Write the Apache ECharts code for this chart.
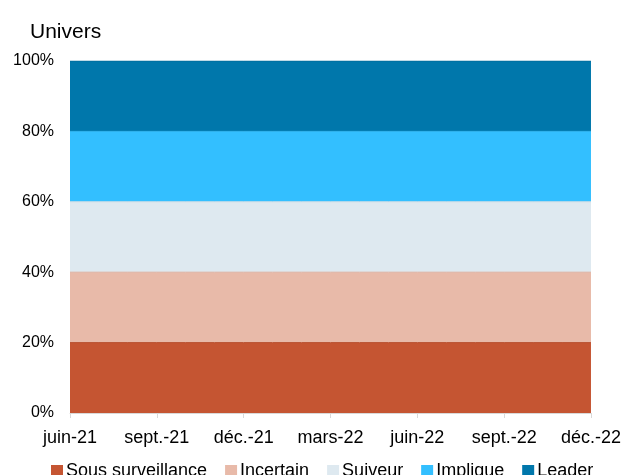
<!DOCTYPE html>
<html>
<head>
<meta charset="utf-8">
<script src="https://cdn.jsdelivr.net/npm/echarts@6/dist/echarts.min.js"></script>
<style>
  html, body { margin: 0; padding: 0; background: #fff; }
  #chart { width: 624px; height: 475px; }
</style>
</head>
<body>
<div id="chart"></div>
<script>
// months juin-21 .. déc.-22
const months = ['juin-21','juil.-21','août-21','sept.-21','oct.-21','nov.-21','déc.-21','janv.-22','févr.-22','mars-22',
  'avr.-22','mai-22','juin-22','juil.-22','août-22','sept.-22','oct.-22','nov.-22','déc.-22'];
const seriesNames = ['Sous surveillance','Incertain','Suiveur','Implique','Leader'];
const colors = ['#C55532','#E8BAA9','#DEE9F0','#33BFFF','#0077AB'];
const lineColors = ['#B84E2D','#DDAE9D','#D2DDE4','#2DB3F0','#006C9C'];
const sousSurveillance = [0.2,0.2,0.2,0.2,0.2,0.2,0.2,0.2,0.2,0.2,0.2,0.2,0.2,0.2,0.2,0.2,0.2,0.2,0.2];
const incertain        = [0.2,0.2,0.2,0.2,0.2,0.2,0.2,0.2,0.2,0.2,0.2,0.2,0.2,0.2,0.2,0.2,0.2,0.2,0.2];
const suiveur          = [0.2,0.2,0.2,0.2,0.2,0.2,0.2,0.2,0.2,0.2,0.2,0.2,0.2,0.2,0.2,0.2,0.2,0.2,0.2];
const implique         = [0.2,0.2,0.2,0.2,0.2,0.2,0.2,0.2,0.2,0.2,0.2,0.2,0.2,0.2,0.2,0.2,0.2,0.2,0.2];
const leader           = [0.2,0.2,0.2,0.2,0.2,0.2,0.2,0.2,0.2,0.2,0.2,0.2,0.2,0.2,0.2,0.2,0.2,0.2,0.2];
const allData = [sousSurveillance, incertain, suiveur, implique, leader];

var myChart = echarts.init(document.getElementById('chart'));
var option = {
  animation: false,
  textStyle: { fontFamily: 'Liberation Sans, Arial, sans-serif' },
  title: {
    text: 'Univers',
    left: 25,
    top: 17,
    textStyle: { fontSize: 21, fontWeight: 'normal', color: '#000' }
  },
  legend: {
    top: 462,
    left: 51,
    padding: 0,
    itemWidth: 12,
    itemHeight: 12,
    itemGap: 18,
    icon: 'rect',
    textStyle: { fontSize: 18, color: '#000', padding: [0, 0, 0, -2] },
    data: seriesNames
  },
  grid: { left: 70, right: 32, top: 61, bottom: 62 },
  xAxis: {
    type: 'category',
    boundaryGap: false,
    data: months,
    axisLine: { show: true, lineStyle: { color: '#D9D9D9' } },
    axisTick: { show: true, interval: 2, length: 5, lineStyle: { color: '#D9D9D9' } },
    axisLabel: {
      interval: 2,
      color: '#000',
      fontSize: 18,
      margin: 16,
      formatter: function (v, i) { return i % 3 === 0 ? v : ''; }
    }
  },
  yAxis: {
    type: 'value',
    min: 0,
    max: 1,
    interval: 0.2,
    axisLine: { show: false },
    axisTick: { show: false },
    splitLine: { show: false },
    axisLabel: {
      color: '#000',
      fontSize: 16,
      margin: 16,
      formatter: function (v) { return Math.round(v * 100) + '%'; }
    }
  },
  series: seriesNames.map(function (name, i) {
    return {
      name: name,
      type: 'line',
      stack: 'total',
      symbol: 'none',
      color: colors[i],
      lineStyle: { width: 1, color: lineColors[i] },
      areaStyle: { color: colors[i], opacity: 1 },
      data: allData[i]
    };
  })
};
option && myChart.setOption(option);
</script>
</body>
</html>
